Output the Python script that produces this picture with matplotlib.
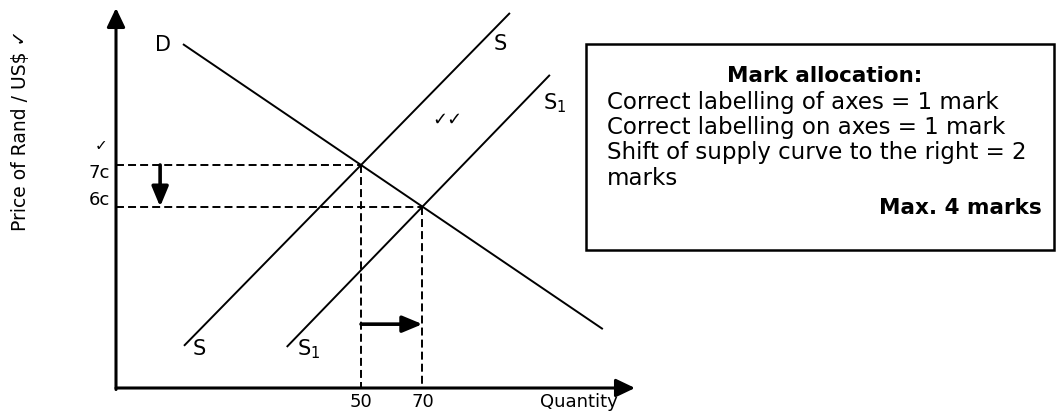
import numpy as np
import matplotlib.pyplot as plt
from matplotlib.patches import Rectangle

# ------------------------------------------------------------
# Diagram data (schematic units: axis origin at 0,0; arrows end at 100)
# ------------------------------------------------------------
demand = {"x": [12.9, 93.8], "y": [90.5, 15.5]}
supply = {"x": [13.1, 75.9], "y": [11.1, 98.7]}
supply_new = {"x": [32.9, 83.6], "y": [10.8, 82.4]}

qty_labels = ["50", "70"]
price_labels = ["7c", "6c"]

box_title = "Mark allocation:"
box_lines = [
    "Correct labelling of axes = 1 mark",
    "Correct labelling on axes = 1 mark",
    "Shift of supply curve to the right = 2",
    "marks",
]
box_total = "Max. 4 marks"


def line_coef(c):
    m = (c["y"][1] - c["y"][0]) / (c["x"][1] - c["x"][0])
    return m, c["y"][0] - m * c["x"][0]


def intersect(a, b):
    m1, b1 = line_coef(a)
    m2, b2 = line_coef(b)
    x = (b2 - b1) / (m1 - m2)
    return x, m1 * x + b1


q_old, p_old = intersect(supply, demand)
q_new, p_new = intersect(supply_new, demand)

W, H = 1056, 414
fig = plt.figure(figsize=(W / 100, H / 100), dpi=100)
ax = fig.add_axes([116 / W, (H - 389) / H, 519 / W, 380 / H])
ax.set_xlim(0, 100)
ax.set_ylim(0, 100)
ax.axis("off")

# axes with arrow heads
axis_arrow = dict(arrowstyle="-|>,head_length=1.15,head_width=0.55", lw=2.2,
                  color="black", shrinkA=0, shrinkB=0, mutation_scale=10)
ax.annotate("", xy=(0, 100), xytext=(0, -0.4), arrowprops=axis_arrow,
            annotation_clip=False)
ax.annotate("", xy=(100, 0), xytext=(0, 0), arrowprops=axis_arrow,
            annotation_clip=False)

# curves
for c in (demand, supply, supply_new):
    ax.plot(c["x"], c["y"], color="black", lw=1.4, solid_capstyle="butt",
            clip_on=False)

# dashed guides
dash = dict(color="black", lw=1.4, dashes=(4.1, 2.1), clip_on=False)
ax.plot([0, q_old], [p_old, p_old], **dash)
ax.plot([q_old, q_old], [p_old, 0], **dash)
ax.plot([0, q_new], [p_new, p_new], **dash)
ax.plot([q_new, q_new], [p_new, 0], **dash)

# movement arrows
move_arrow = dict(arrowstyle="-|>,head_length=1.2,head_width=0.5", lw=2.6,
                  color="black", shrinkA=0, shrinkB=0, mutation_scale=10)
ax.annotate("", xy=(8.5, p_new), xytext=(8.5, p_old), arrowprops=move_arrow)
ax.annotate("", xy=(q_new, 16.8), xytext=(q_old, 16.8), arrowprops=move_arrow)

# labels on axes
ax.text(-1.2, p_old + 0.4, price_labels[0], ha="right", va="top", fontsize=13)
ax.text(-1.2, p_new - 0.4, price_labels[1], ha="right", va="bottom", fontsize=13)
ax.text(q_old, -3.4, qty_labels[0], ha="center", va="center", fontsize=13)
ax.text(q_new, -3.4, qty_labels[1], ha="center", va="center", fontsize=13)
ax.text(96.7, -3.4, "Quantity", ha="right", va="center", fontsize=13)
ax.text(-2.9, 64.2, "\u2713", ha="center", va="center", fontsize=11)
fig.text(21 / W, (H - 130) / H, "Price of Rand / US$ \u2713", rotation=90,
         ha="center", va="center", fontsize=13.5)

# curve labels
lab = dict(fontsize=15, va="center")
ax.text(demand["x"][0] - 3.8, demand["y"][0], "D", ha="center", **lab)
ax.text(supply["x"][1] - 1.9, supply["y"][1] - 7.9, "S", ha="center", **lab)
ax.text(supply_new["x"][1] - 1.3, supply_new["y"][1] - 7.1, r"S$_1$", ha="left", **lab)
ax.text(supply["x"][0] + 2.9, supply["y"][0] - 0.6, "S", ha="center", **lab)
ax.text(supply_new["x"][0] + 2.0, supply_new["y"][0] - 0.3, r"S$_1$", ha="left", **lab)
ax.text(63.8, 70.8, "\u2713\u2713", ha="center", va="center", fontsize=13)

# mark allocation box
fig.add_artist(Rectangle((586 / W, (H - 251) / H), 468 / W, 206 / H,
                         transform=fig.transFigure, fill=False, lw=1.8,
                         edgecolor="black"))
fig.text(825 / W, (H - 76) / H, box_title, ha="center", va="center",
         fontsize=15.5, fontweight="bold")
for i, t in enumerate(box_lines):
    fig.text(607 / W, (H - (102 + 25.5 * i)) / H, t, ha="left", va="center",
             fontsize=16.5)
fig.text(1042 / W, (H - 208) / H, box_total, ha="right", va="center",
         fontsize=15.5, fontweight="bold")

fig.savefig("out.png", dpi=100)
